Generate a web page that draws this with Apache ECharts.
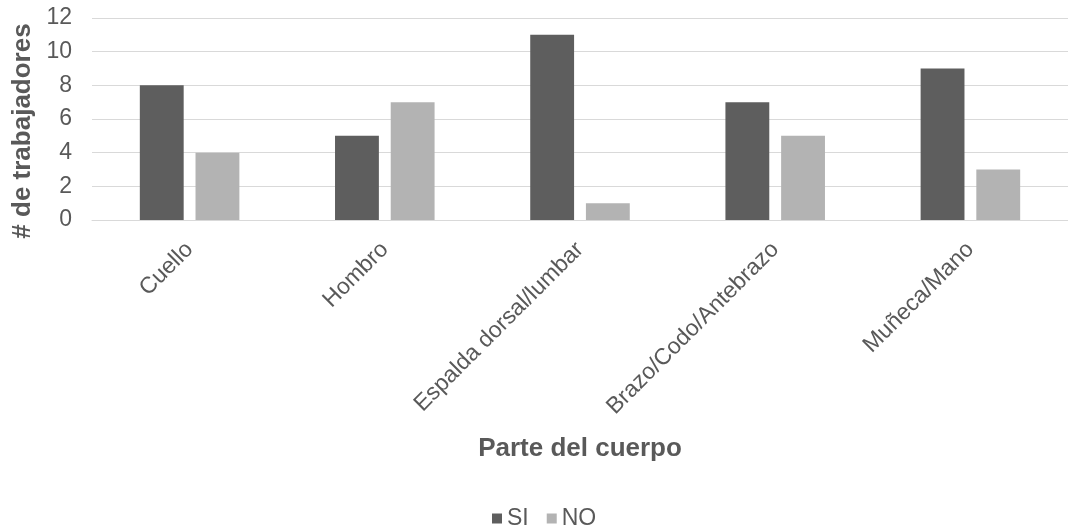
<!DOCTYPE html>
<html>
<head>
<meta charset="utf-8">
<script src="https://cdn.jsdelivr.net/npm/echarts@6/dist/echarts.min.js"></script>
<style>html,body{margin:0;padding:0;background:#fff;}#chart{width:1068px;height:531px;}</style>
</head>
<body>
<div id="chart"></div>
<script>
const categories = ['Cuello', 'Hombro', 'Espalda dorsal/lumbar', 'Brazo/Codo/Antebrazo', 'Muñeca/Mano'];
const siValues = [8, 5, 11, 7, 9];
const noValues = [4, 7, 1, 5, 3];
const seriesNames = ['SI', 'NO'];
const yAxisTitle = '# de trabajadores';
const xAxisTitle = 'Parte del cuerpo';

const FONT = '"Liberation Sans", Arial, sans-serif';
const chart = echarts.init(document.getElementById('chart'));
chart.setOption({
  animation: false,
  textStyle: { fontFamily: FONT },
  legend: {
    data: seriesNames,
    left: 487,
    top: 502,
    icon: 'rect',
    itemWidth: 10,
    itemHeight: 10,
    itemGap: 18,
    textStyle: { color: '#595959', fontSize: 23, fontFamily: FONT }
  },
  grid: { left: 92, top: 18, width: 985, height: 202, containLabel: false },
  xAxis: {
    type: 'category',
    data: categories,
    name: xAxisTitle,
    nameLocation: 'middle',
    nameGap: 216,
    nameTextStyle: { color: '#595959', fontSize: 26, fontWeight: 'bold', fontFamily: FONT },
    axisLine: { lineStyle: { color: '#d9d9d9', width: 1 } },
    axisTick: { show: false },
    axisLabel: { rotate: 45, margin: 26, color: '#595959', fontSize: 23, fontFamily: FONT, interval: 0 }
  },
  yAxis: {
    type: 'value',
    min: 0,
    max: 12,
    interval: 2,
    name: yAxisTitle,
    nameLocation: 'middle',
    nameGap: 54,
    nameTextStyle: { color: '#595959', fontSize: 26, fontWeight: 'bold', fontFamily: FONT, padding: [0, 24, 0, 0] },
    axisLine: { show: false },
    axisTick: { show: false },
    splitLine: { lineStyle: { color: '#d9d9d9', width: 1 } },
    axisLabel: { margin: 20, color: '#595959', fontSize: 23, fontFamily: FONT }
  },
  series: [
    { name: seriesNames[0], type: 'bar', data: siValues, barGap: '27%', barCategoryGap: '49%', itemStyle: { color: '#5e5e5e' } },
    { name: seriesNames[1], type: 'bar', data: noValues, itemStyle: { color: '#b3b3b3' } }
  ]
});
</script>
</body>
</html>
